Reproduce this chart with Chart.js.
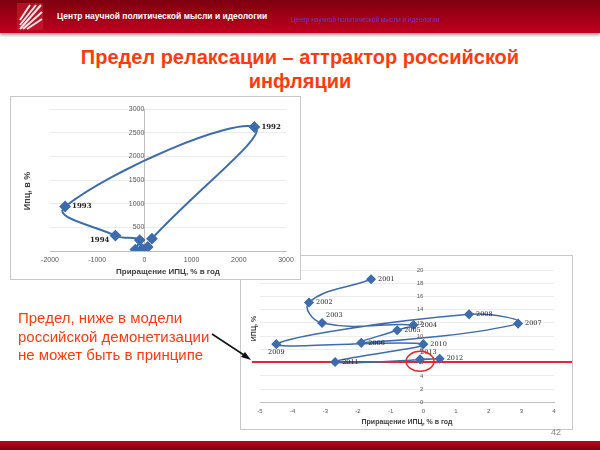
<!DOCTYPE html>
<html>
<head>
<meta charset="utf-8">
<script src="https://cdn.jsdelivr.net/npm/chart.js@4.4.1/dist/chart.umd.min.js"></script>
<style>
  html, body { margin: 0; padding: 0; }
  body { width: 600px; height: 450px; position: relative; overflow: hidden; background: #fff; font-family: "Liberation Sans", Arial, sans-serif; }
  .header { position: absolute; left: 0; top: 0; width: 600px; height: 33px; background: linear-gradient(#7e000e, #b3001c 80%, #c4001f); box-shadow: 0 2px 3px #999; }
  .header .logo { position: absolute; left: 17px; top: 3px; }
  .header .name { position: absolute; left: 57px; top: 11px; color: #fff; font-weight: bold; font-size: 8.5px; }
  .header .link { position: absolute; left: 291px; top: 16px; color: #6b36d6; font-size: 6.5px; }
  .title { position: absolute; left: 0; top: 45px; width: 600px; text-align: center; color: #ff3b0c; font-weight: bold; font-size: 20px; line-height: 24px; }
  .note { position: absolute; left: 18px; top: 309px; color: #ff3b0c; font-size: 15px; line-height: 18.5px; }
  .box { position: absolute; border: 1px solid #c8c8c8; background: #fff; box-sizing: border-box; }
  .ytitle { position: absolute; transform: rotate(-90deg); transform-origin: center; font-weight: bold; color: #404040; white-space: nowrap; }
  .footer { position: absolute; left: 0; top: 441px; width: 600px; height: 9px; background: linear-gradient(#c4001f, #7e000e); }
  .page { position: absolute; left: 551px; top: 427px; font-size: 9px; color: #888; }
</style>
</head>
<body>
<div class="header">
  <svg class="logo" width="26" height="27" viewBox="0 0 26 27">
    <rect x="0" y="0" width="26" height="27" fill="#c9202e" opacity="0.6"/>
    <g stroke="#fff" stroke-width="2" opacity="0.9">
      <line x1="3" y1="26" x2="24" y2="2"/>
      <line x1="3" y1="22" x2="19" y2="2"/>
      <line x1="6" y1="26" x2="25" y2="9"/>
      <line x1="3" y1="17" x2="13" y2="2"/>
      <line x1="10" y1="26" x2="25" y2="16"/>
    </g>
  </svg>
  <div class="name">Центр научной политической мысли и идеологии</div>
  <div class="link">Центр научной политической мысли и идеологии</div>
</div>

<div class="title">Предел релаксации – аттрактор российской<br>инфляции</div>

<div class="box" style="left:240px; top:255px; width:333px; height:175px;">
  <canvas id="chartBottom" width="331" height="173"></canvas>
</div>

<div class="box" style="left:10px; top:96px; width:291px; height:184px;">
  <canvas id="chartTop" width="289" height="182"></canvas>
</div>

<div class="ytitle" style="left:-8px; top:186px; width:70px; text-align:center; font-size:9px;">Ипц, в %</div>
<div class="ytitle" style="left:228px; top:325px; width:50px; text-align:center; font-size:7px;">ИПЦ, %</div>

<div class="note">Предел, ниже в модели<br>российской демонетизации<br>не может быть в принципе</div>

<svg style="position:absolute; left:0; top:0;" width="600" height="450">
  <line x1="212" y1="334" x2="247" y2="357" stroke="#111" stroke-width="1.5"/>
  <polygon points="251,360 241,357 245,352" fill="#111"/>
</svg>

<div class="footer"></div>
<div class="page">42</div>

<script>
// годы 1991-2000: ИПЦ и его приращение (верхний график)
const yearsTop = ['1991', '1992', '1993', '1994', '1995', '1996', '1997', '1998', '1999', '2000'];
const deltaTop = [160, 2330, -1680, -614, -100, -190, -20, 70, -50, -16];
const cpiTop = [260, 2620, 940, 326, 230, 30, 15, 85, 37, 20];
const labeledTop = ['1992', '1993', '1994'];

// годы 2001-2013 (нижний график)
const yearsBottom = ['2001', '2002', '2003', '2004', '2005', '2006', '2007', '2008', '2009', '2010', '2011', '2012', '2013'];
const deltaBottom = [-1.6, -3.5, -3.1, -0.3, -0.8, -1.9, 2.9, 1.4, -4.5, 0.0, -2.7, 0.5, -0.1];
const cpiBottom = [18.6, 15.1, 12.0, 11.7, 10.9, 9.0, 11.9, 13.3, 8.8, 8.8, 6.1, 6.6, 6.5];

// предел (красная линия) и выделенный год
const limitValue = 6.1;
const limitSpan = [-5.25, 4.6];
const circledYear = '2013';

const blue = '#3d6cab';
const tickColor = '#595959';

function toPoints(xs, ys) {
  return xs.map((x, i) => ({ x: x, y: ys[i] }));
}

// подписи годов возле точек
const yearLabels = {
  id: 'yearLabels',
  afterDatasetsDraw(chart, args, opts) {
    const ctx = chart.ctx;
    const meta = chart.getDatasetMeta(0);
    ctx.save();
    ctx.font = opts.font;
    ctx.fillStyle = '#222';
    ctx.textBaseline = 'middle';
    opts.years.forEach((year, i) => {
      if (opts.only && opts.only.indexOf(year) < 0) return;
      const pt = meta.data[i];
      const place = (opts.place && opts.place[year]) || 'right';
      let dx = 7, dy = 0;
      ctx.textAlign = 'left';
      if (place === 'left') { dx = -7; ctx.textAlign = 'right'; }
      if (place === 'belowLeft') { dx = -6; dy = 5; ctx.textAlign = 'right'; }
      if (place === 'below') { dx = 0; dy = 8; ctx.textAlign = 'center'; }
      if (place === 'above') { dx = 0; dy = -7; ctx.textAlign = 'left'; }
      if (place === 'aboveRight') { dx = 4; dy = -8; }
      ctx.fillText(year, pt.x + dx, pt.y + dy);
    });
    if (opts.circle) {
      const i = opts.years.indexOf(opts.circle);
      const pt = meta.data[i];
      ctx.strokeStyle = '#e8262b';
      ctx.lineWidth = 1.5;
      ctx.beginPath();
      ctx.ellipse(pt.x, pt.y + 2, 14, 10, 0, 0, Math.PI * 2);
      ctx.stroke();
    }
    ctx.restore();
  }
};

function makeScales(opt) {
  return {
    x: {
      type: 'linear',
      min: opt.xMin, max: opt.xMax,
      border: { color: '#bfbfbf' },
      grid: { display: false, drawTicks: true, tickLength: 3, color: '#bfbfbf' },
      ticks: { stepSize: opt.xStep, color: tickColor, font: { size: opt.tickSize, family: 'Liberation Sans' }, padding: 2, maxRotation: 0,
        callback: (v) => String(v) },
      title: { display: true, text: 'Приращение ИПЦ, % в год', color: '#404040', font: { size: opt.titleSize, weight: 'bold', family: 'Liberation Sans' }, padding: { top: 1, bottom: 0 } }
    },
    y: {
      type: 'linear',
      position: { x: 0 },
      min: opt.yMin, max: opt.yMax,
      border: { display: opt.yBorder, color: '#bfbfbf' },
      grid: { color: '#ececec', drawTicks: true, tickLength: 3 },
      ticks: { stepSize: opt.yStep, color: tickColor, font: { size: opt.tickSize, family: 'Liberation Sans' }, padding: 3,
        callback: (v) => (opt.hideZero && v === 0) ? '' : String(v) }
    }
  };
}

new Chart(document.getElementById('chartTop'), {
  type: 'scatter',
  data: {
    datasets: [{
      data: toPoints(deltaTop, cpiTop),
      showLine: true,
      tension: 0.45,
      borderColor: blue,
      borderWidth: 2,
      backgroundColor: blue,
      pointStyle: 'rectRot',
      pointRadius: 4.5
    }]
  },
  options: {
    responsive: false,
    animation: false,
    layout: { padding: { left: 39, right: 14, top: 12, bottom: 2 } },
    plugins: {
      legend: { display: false },
      tooltip: { enabled: false },
      yearLabels: { years: yearsTop, only: labeledTop, font: 'bold 7px "DejaVu Serif"', place: { '1994': 'belowLeft' } }
    },
    scales: makeScales({ xMin: -2000, xMax: 3000, xStep: 1000, yMin: 0, yMax: 3000, yStep: 500, tickSize: 7, titleSize: 8, yBorder: true, hideZero: true })
  },
  plugins: [yearLabels]
});

new Chart(document.getElementById('chartBottom'), {
  type: 'scatter',
  data: {
    datasets: [{
      data: toPoints(deltaBottom, cpiBottom),
      showLine: true,
      tension: 0.45,
      borderColor: blue,
      borderWidth: 1.5,
      backgroundColor: blue,
      pointStyle: 'rectRot',
      pointRadius: 4
    }, {
      data: limitSpan.map((x) => ({ x: x, y: limitValue })),
      showLine: true,
      clip: false,
      borderColor: '#e8262b',
      borderWidth: 2,
      pointRadius: 0
    }]
  },
  options: {
    responsive: false,
    animation: false,
    layout: { padding: { left: 19, right: 18, top: 14, bottom: 3 } },
    plugins: {
      legend: { display: false },
      tooltip: { enabled: false },
      yearLabels: { years: yearsBottom, font: '6.5px "DejaVu Serif"', circle: circledYear,
        place: { '2003': 'aboveRight', '2009': 'below', '2013': 'above' } }
    },
    scales: makeScales({ xMin: -5, xMax: 4, xStep: 1, yMin: 0, yMax: 20, yStep: 2, tickSize: 6, titleSize: 7, yBorder: false, hideZero: false })
  },
  plugins: [yearLabels]
});
</script>
</body>
</html>
